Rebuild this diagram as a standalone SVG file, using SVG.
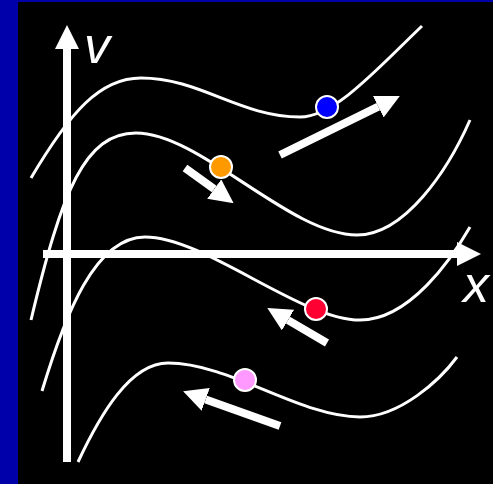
<svg xmlns="http://www.w3.org/2000/svg" width="493" height="484" viewBox="0 0 493 484">
<style>
.curve{fill:none;stroke:#fff;stroke-width:3;stroke-linecap:butt}
.axis{stroke:#fff;stroke-width:8;fill:none}
.arrow{stroke:#fff;stroke-width:8;fill:none;marker-end:url(#head)}
.dot{stroke:#fff;stroke-width:2}
.lbl{font-family:"Liberation Sans",Arial,sans-serif;font-style:italic;font-size:52px;fill:#fff}
</style>
<defs>
<marker id="head" markerUnits="userSpaceOnUse" markerWidth="24" markerHeight="24" refX="0" refY="11" orient="auto" viewBox="0 0 22 22">
<path d="M0,0 L22,11 L0,22 z" fill="#fff"/>
</marker>
<marker id="axhead" markerUnits="userSpaceOnUse" markerWidth="24" markerHeight="24" refX="0" refY="12" orient="auto" viewBox="0 0 24 24">
<path d="M0,0 L24,12 L0,24 z" fill="#fff"/>
</marker>
</defs>
<rect x="0" y="0" width="493" height="484" fill="#000"/>
<rect x="0" y="0" width="18" height="484" fill="#0000aa"/>
<rect x="0" y="0" width="493" height="2" fill="#0000aa"/>
<g id="axes">
<line class="axis" x1="67" y1="462" x2="67" y2="49" marker-end="url(#axhead)"/>
<line class="axis" x1="43" y1="254" x2="457" y2="254" marker-end="url(#axhead)"/>
<text class="lbl" x="84" y="63">v</text>
<text class="lbl" x="463" y="302">x</text>
</g>
<g id="curves">
<path class="curve" d="M31,178 C70,112 100,78 141,78 C200,78 240,117 300,117 C335,117 378,68 422,26"/>
<path class="curve" d="M31,320 C62,190 85,133 136,133 C200,133 290,235 357,235 C405,235 448,170 470,120"/>
<path class="curve" d="M42,391 C65,315 95,237 145,237 C205,237 300,320 360,320 C410,320 452,258 470,227"/>
<path class="curve" d="M78,462 C100,415 130,363 168,363 C230,363 300,417 360,417 C400,417 440,380 457,357"/>
</g>
<g id="connectors">
<line class="arrow" x1="280" y1="155" x2="378.3" y2="106.7"/>
<line class="arrow" x1="185" y1="168" x2="214.2" y2="189.1"/>
<line class="arrow" x1="327" y1="343" x2="288" y2="320.1"/>
<line class="arrow" x1="280" y1="426" x2="205.7" y2="399.4"/>
</g>
<g id="dot-blue"><circle class="dot" cx="327" cy="107" r="11" fill="#0000ff"/></g>
<g id="dot-orange"><circle class="dot" cx="221" cy="167" r="11" fill="#ff9900"/></g>
<g id="dot-red"><circle class="dot" cx="316" cy="309" r="11" fill="#ff0033"/></g>
<g id="dot-pink"><circle class="dot" cx="245" cy="380" r="11" fill="#ff99ff"/></g>
</svg>
